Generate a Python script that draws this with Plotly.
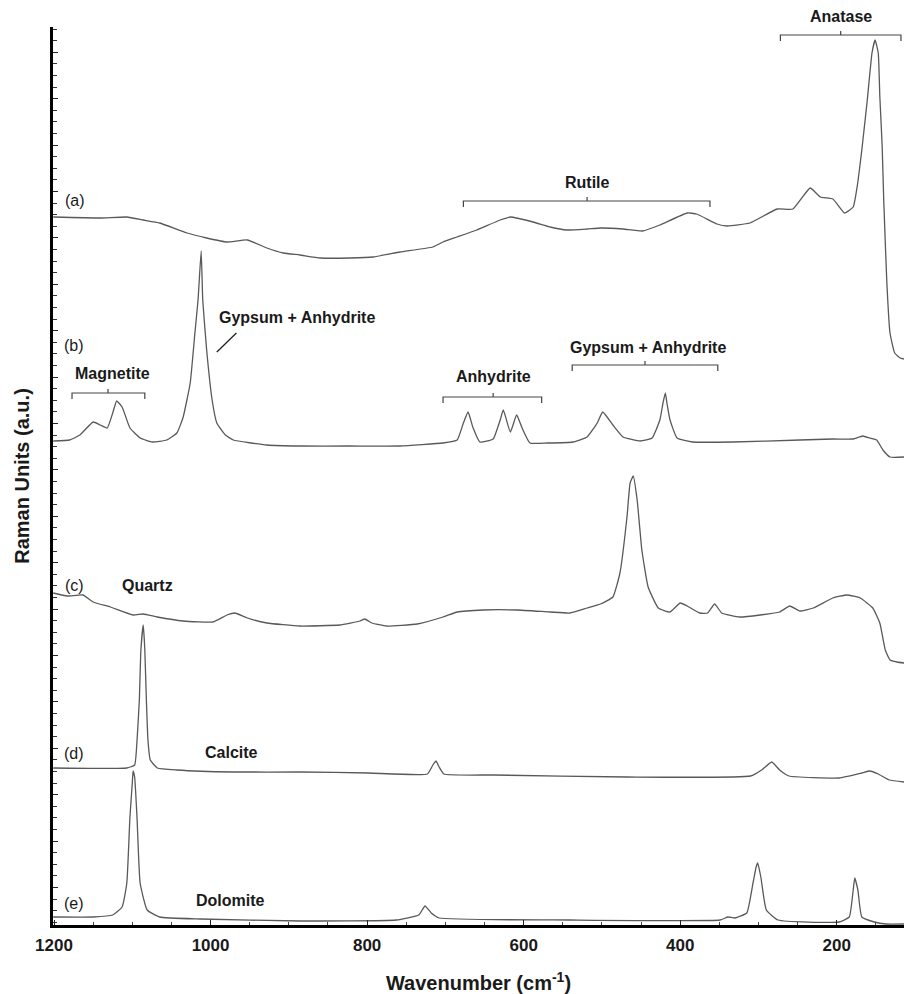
import plotly.graph_objects as go

# ---- Spectra (wavenumber in cm-1, stacked intensity in a.u.) ----
A_WN = [1201,1141,1107,1086,1065,1030,1005,979,953,928,907,886,860,822,792,758,716,703,685,660,630,617,588,566,545,519,502,473,448,426,391,379,353,340,311,276,256,234,221,205,190,179,174,168,161,155,151,147,145,142,140,136,132,126,119,114]
A_INT = [709,708,709,706,703,693,688,684,686,678,673,671,668,668,669,674,679,684,689,696,706,709,704,699,696,697,698,697,695,701,713,712,702,700,703,717,717,738,729,727,713,719,739,776,826,873,886,873,830,780,726,643,593,573,568,567]

B_WN = [1201,1180,1167,1150,1141,1132,1125,1120,1113,1103,1090,1074,1056,1043,1035,1026,1020,1016,1012,1010,1005,998,992,981,971,928,886,822,758,703,685,677,671,665,656,639,630,626,617,609,602,592,570,537,519,506,499,486,473,451,436,426,422,419,417,413,404,384,333,247,205,179,167,158,149,141,132,114]
B_INT = [485,486,491,504,501,498,513,525,519,498,488,484,486,493,509,543,593,626,675,626,576,526,503,491,486,481,480,480,480,483,486,503,514,499,484,487,506,516,494,511,498,483,483,484,489,503,514,501,489,485,488,506,523,533,523,506,488,484,484,486,487,487,490,488,486,476,469,469]

C_WN = [1201,1183,1163,1150,1128,1099,1086,1068,1035,997,979,969,953,928,886,835,809,803,794,775,736,703,685,652,609,566,541,519,502,486,477,468,464,460,455,449,441,428,413,400,391,375,365,356,347,324,298,273,260,247,230,205,187,170,154,145,138,132,123,114]
C_INT = [333,330,331,324,319,311,312,309,305,304,311,313,308,303,300,301,305,307,303,300,302,309,314,316,316,314,313,318,322,329,353,409,443,450,426,376,339,318,314,323,320,313,313,322,313,309,311,314,320,315,318,328,331,328,318,303,276,266,264,263]

D_WN = [1201,1107,1097,1094,1091,1089,1086,1084,1082,1080,1077,1068,1043,971,886,798,723,716,712,708,702,639,468,310,296,283,273,261,197,168,158,147,133,114]
D_INT = [158,158,161,185,226,276,301,276,226,186,166,158,156,154,154,153,152,161,165,159,152,151,149,150,156,164,156,150,148,153,155,152,146,144]

E_WN = [1201,1150,1125,1113,1107,1103,1100,1099,1097,1094,1090,1081,1065,1013,886,763,734,726,718,708,541,349,339,330,315,307,303,301,297,290,275,197,184,179,177,173,168,152,137,114]
E_INT = [9,9,11,19,43,109,143,155,149,109,43,16,9,7,5,6,11,20,13,8,6,6,9,8,13,43,59,63,49,16,6,4,9,36,48,36,9,4,2,2]

SPECTRA = [("(a)", A_WN, A_INT), ("(b)", B_WN, B_INT), ("(c)", C_WN, C_INT),
           ("(d)", D_WN, D_INT), ("(e)", E_WN, E_INT)]

Y_MIN, Y_MAX = 1, 899

# ---- Labels ----
TRACE_LABELS = ["(a)", "(b)", "(c)", "(d)", "(e)"]
TRACE_LABEL_WN = [1173, 1174, 1174, 1174, 1174]
TRACE_LABEL_Y = [726, 581, 341, 173, 23]

MINERAL_LABELS = ["Magnetite", "Gypsum + Anhydrite", "Anhydrite", "Gypsum + Anhydrite",
                  "Rutile", "Anatase", "Quartz", "Calcite", "Dolomite"]
MINERAL_WN = [1125, 890, 638, 441, 518, 195, 1080, 973, 974]
MINERAL_Y = [553, 609, 550, 579, 744, 909, 341, 174, 26]

# brackets: left wn, right wn, centre wn, level
BRACKET_LEFT = [1177, 703, 538, 677, 272]
BRACKET_RIGHT = [1084, 577, 352, 362, 118]
BRACKET_CENTER = [1131, 639, 445, 519, 195]
BRACKET_Y = [533, 529, 561, 725, 891]

POINTER_WN = [992, 967]
POINTER_Y = [574, 593]

FONT = "Liberation Sans, Arial, sans-serif"
LINE_COLOR = "#595959"
INK = "#1a1a1a"


def to_paper(yv):
    return (yv - Y_MIN) / (Y_MAX - Y_MIN)


fig = go.Figure()
for name, wn, inten in SPECTRA:
    fig.add_trace(go.Scatter(x=wn, y=inten, mode="lines", name=name,
                             line=dict(color=LINE_COLOR, width=1.3, shape="spline", smoothing=0.4),
                             showlegend=False, hoverinfo="x+y"))

annotations = []
for t, xw, yv in zip(TRACE_LABELS, TRACE_LABEL_WN, TRACE_LABEL_Y):
    annotations.append(dict(x=xw, y=to_paper(yv), xref="x", yref="paper", text=t, showarrow=False,
                            font=dict(family=FONT, size=16, color=INK),
                            xanchor="center", yanchor="middle"))
for t, xw, yv in zip(MINERAL_LABELS, MINERAL_WN, MINERAL_Y):
    annotations.append(dict(x=xw, y=to_paper(yv), xref="x", yref="paper", text=t, showarrow=False,
                            font=dict(family=FONT, size=16, color=INK, weight="bold"),
                            xanchor="center", yanchor="middle"))

shapes = []
hook = 6
for l, r, c, yv in zip(BRACKET_LEFT, BRACKET_RIGHT, BRACKET_CENTER, BRACKET_Y):
    path = (f"M {l},{yv - hook} L {l},{yv} L {r},{yv} L {r},{yv - hook} "
            f"M {c},{yv} L {c},{yv + 4}")
    shapes.append(dict(type="path", path=path, xref="x", yref="y",
                       line=dict(color="#444444", width=1.2)))
shapes.append(dict(type="line", x0=POINTER_WN[0], y0=POINTER_Y[0], x1=POINTER_WN[1], y1=POINTER_Y[1],
                   xref="x", yref="y", line=dict(color="#222222", width=1.3)))

fig.update_layout(
    width=904, height=994,
    margin=dict(l=53, r=0, t=27, b=69),
    paper_bgcolor="white", plot_bgcolor="white",
    annotations=annotations, shapes=shapes,
    font=dict(family=FONT, color=INK),
)
fig.update_xaxes(
    range=[1201.3, 114.1], showgrid=False, zeroline=False,
    showline=True, linewidth=3, linecolor="black",
    ticks="inside", ticklen=5, tickwidth=1, tickcolor="#222",
    tick0=0, dtick=200, ticklabelstandoff=3,
    minor=dict(ticks="inside", ticklen=3, dtick=50, tickcolor="#444"),
    tickfont=dict(family=FONT, size=17, color=INK, weight="bold"),
    title=dict(text="Wavenumber (cm<sup>-1</sup>)", standoff=22,
               font=dict(family=FONT, size=20, color=INK, weight="bold")),
)
fig.update_yaxes(
    range=[Y_MIN, Y_MAX], showgrid=False, zeroline=False,
    showline=True, linewidth=3, linecolor="black",
    ticks="inside", ticklen=5, tickwidth=1, tickcolor="#222",
    tick0=38.5, dtick=46.4, showticklabels=False,
    minor=dict(ticks="inside", ticklen=4, tick0=3.7, dtick=11.6, tickcolor="#333", tickwidth=1),
    title=dict(text="Raman Units (a.u.)", standoff=16,
               font=dict(family=FONT, size=20, color=INK, weight="bold")),
)

fig.write_html("out.html")
